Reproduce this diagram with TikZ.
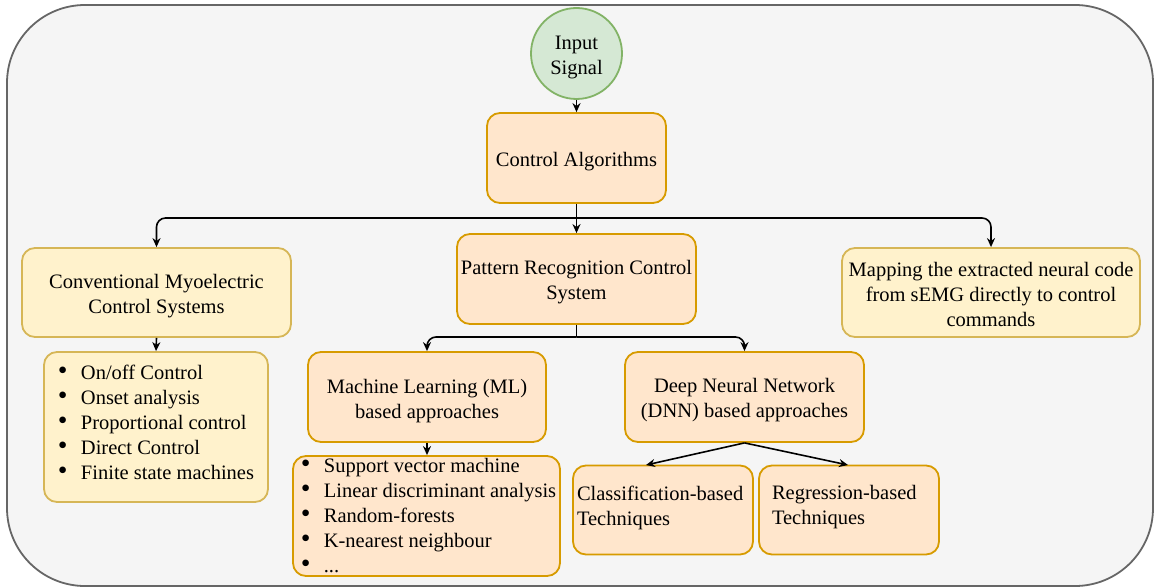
\documentclass[tikz,border=0pt]{standalone}
\usepackage{fontspec}
\setmainfont{Liberation Serif}
\usetikzlibrary{arrows.meta}

\definecolor{outerfill}{HTML}{F5F5F5}
\definecolor{outerline}{HTML}{666666}
\definecolor{orangefill}{HTML}{FFE6CC}
\definecolor{orangeline}{HTML}{D79B00}
\definecolor{yellowfill}{HTML}{FFF2CC}
\definecolor{yellowline}{HTML}{D6B656}
\definecolor{greenfill}{HTML}{D5E8D4}
\definecolor{greenline}{HTML}{82B366}

\newcommand{\itm}[1]{\makebox[23pt][l]{\scalebox{1.35}{\textbullet}}#1}

\tikzset{
  basebox/.style={rounded corners=13pt, line width=1.8pt, inner sep=0pt},
  obox/.style={basebox, fill=orangefill, draw=orangeline},
  ybox/.style={basebox, fill=yellowfill, draw=yellowline},
  txt/.style={inner sep=0pt, font=\fontsize{20.5}{25}\selectfont, align=center},
  listtxt/.style={txt, align=left},
  link/.style={line width=1.6pt, draw=black, -{Stealth[length=9pt,width=8pt]}},
  branch/.style={link, rounded corners=9pt}
}

\begin{document}
\begin{tikzpicture}[x=1pt,y=-1pt]
\useasboundingbox (0,0) rectangle (1155,588);

% outer frame
\draw[fill=outerfill, draw=outerline, line width=1.8pt, rounded corners=78pt]
  (7,5) rectangle (1153,586);

% input
\node[circle, minimum size=91pt, inner sep=0pt, fill=greenfill, draw=greenline,
  line width=1.8pt] (input) at (576.5,53.5) {};
\node[txt] (input-t) at ([yshift=-4pt]input.center) {Input\\Signal};

% top level
\node[obox, minimum width=179pt, minimum height=90pt] (ctrl) at (576.5,158) {};
\node[txt] (ctrl-t) at ([yshift=-4pt]ctrl.center) {Control Algorithms};

% second level
\node[ybox, minimum width=269pt, minimum height=89pt] (conv) at (156.5,292.5) {};
\node[txt] (conv-t) at ([yshift=-3.5pt]conv.center) {Conventional Myoelectric\\Control Systems};

\node[obox, minimum width=239pt, minimum height=90pt] (patt) at (576.5,279) {};
\node[txt] (patt-t) at ([yshift=-3pt]patt.center) {Pattern Recognition Control\\System};

\node[ybox, minimum width=298pt, minimum height=89pt] (map) at (991,292.5) {};
\node[txt] (map-t) at ([yshift=-1.5pt]map.center)
  {Mapping the extracted neural code\\from sEMG directly to control\\commands};

% conventional methods list
\node[ybox, minimum width=224pt, minimum height=150pt] (convlist) at (156,427) {};
\node[listtxt] (convlist-t) at ([yshift=5pt]convlist.center)
  {\itm{On/off Control}\\\itm{Onset analysis}\\\itm{Proportional control}\\\itm{Direct Control}\\\itm{Finite state machines}};

% pattern recognition families
\node[obox, minimum width=238pt, minimum height=90pt] (ml) at (427,397) {};
\node[txt] (ml-t) at ([yshift=-4pt]ml.center) {Machine Learning (ML)\\based approaches};

\node[obox, minimum width=239pt, minimum height=90pt] (dnn) at (744.5,397) {};
\node[txt] (dnn-t) at ([yshift=-3pt]dnn.center) {Deep Neural Network\\(DNN) based approaches};

\node[obox, minimum width=267pt, minimum height=120pt] (mllist) at (426.5,516) {};
\node[listtxt] (mllist-t) at ([xshift=2pt]mllist.center)
  {\itm{Support vector machine}\\\itm{Linear discriminant analysis}\\\itm{Random-forests}\\\itm{K-nearest neighbour}\\\itm{...}};

\node[obox, minimum width=180pt, minimum height=89pt] (cls) at (663,510) {};
\node[listtxt, text width=172pt] (cls-t) at ([yshift=2pt]cls.center) {Classification-based\\Techniques};

\node[obox, minimum width=180pt, minimum height=89pt] (reg) at (849,510) {};
\node[listtxt, text width=154pt] (reg-t) at ([yshift=3pt]reg.center) {Regression-based\\Techniques};

% junctions
\coordinate (j1) at (576.5,218);
\coordinate (j2) at (576.5,337);

% connectors
\draw[link] (input.south) -- (ctrl.north);
\draw[link] (ctrl.south) -- (patt.north);
\draw[branch] (j1) -| (conv.north);
\draw[branch] (j1) -| (map.north);
\draw[link] (conv.south) -- (convlist.north);

\draw[line width=1.6pt] (patt.south) -- (j2);
\draw[branch] (j2) -| (ml.north);
\draw[branch] (j2) -| (dnn.north);
\draw[link] (ml.south) -- (ml.south |- mllist.north);

\draw[link] (dnn.south) -- (646,465);
\draw[link] (dnn.south) -- (848,465);
\end{tikzpicture}
\end{document}
